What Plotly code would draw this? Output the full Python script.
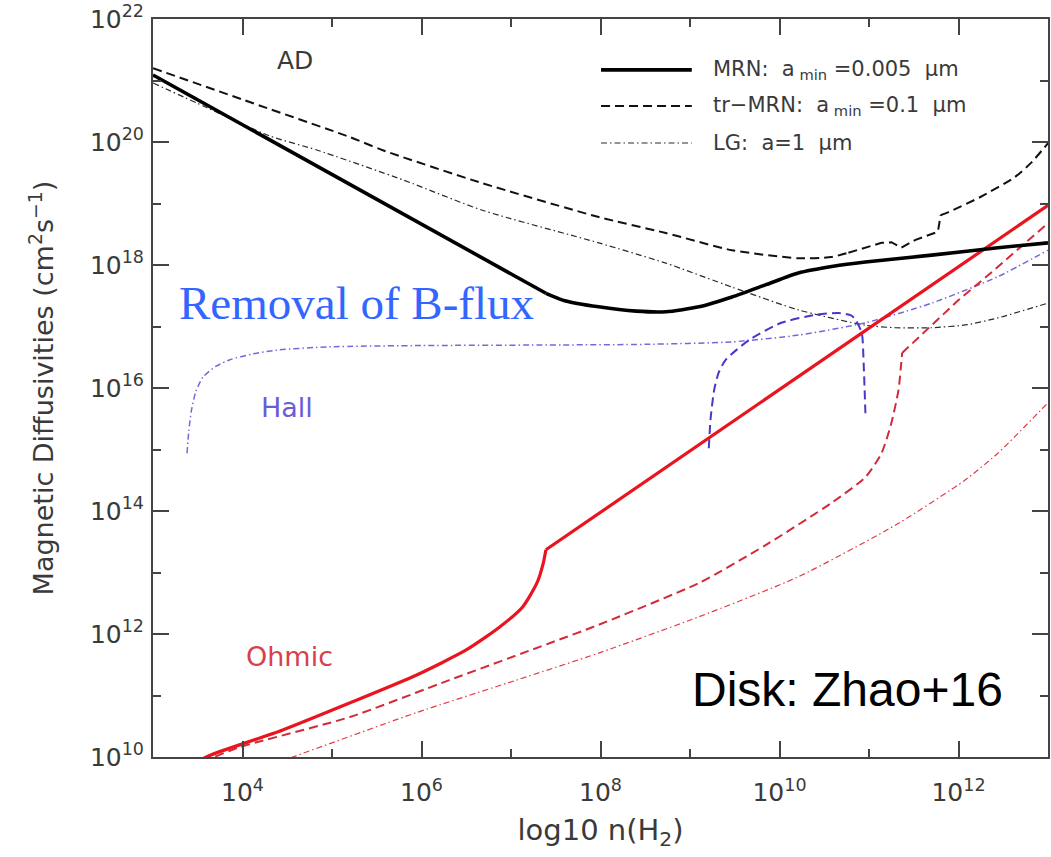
import numpy as np
import plotly.graph_objects as go

# ---- data: log10 n(H2) and log10 diffusivity (cm^2 s^-1) ----
# Ambipolar diffusion
ad_mrn_logn = [3.0, 4.0, 5.0, 6.0, 7.0, 7.39, 7.6, 7.98, 8.4, 8.73, 9.1, 9.47,
               9.85, 10.21, 10.6, 10.96, 11.7, 12.44, 13.0]
ad_mrn_logeta = [21.09, 20.28, 19.47, 18.66, 17.86, 17.54, 17.42, 17.32, 17.25, 17.24,
                 17.32, 17.48, 17.68, 17.87, 17.98, 18.05, 18.16, 18.28, 18.36]

ad_trmrn_logn = [3.0, 4.0, 5.2, 5.56, 6.68, 7.98, 8.73, 9.47, 10.21, 10.58, 10.77, 11.14, 11.25,
                 11.36, 11.52, 11.77, 11.8, 11.89, 12.25, 12.63, 12.81, 13.0]
ad_trmrn_logeta = [21.2, 20.69, 20.08, 19.87, 19.33, 18.78, 18.52, 18.24, 18.11, 18.13, 18.2, 18.36,
                   18.37, 18.28, 18.41, 18.54, 18.81, 18.86, 19.11, 19.43, 19.66, 19.98]

ad_lg_logn = [3.0, 3.6, 4.3, 4.83, 5.8, 6.68, 7.98, 8.73, 9.47, 10.21, 10.96, 11.3, 11.7, 12.1,
              12.44, 13.0]
ad_lg_logeta = [20.96, 20.56, 20.1, 19.87, 19.38, 18.89, 18.36, 18.03, 17.64, 17.27, 17.02, 16.98,
                16.98, 17.03, 17.14, 17.38]

# Hall effect
hall_lg_logn = [3.38, 3.40, 3.43, 3.48, 3.56, 3.7, 3.86, 4.1, 4.41, 4.97, 6.0, 7.57, 8.5, 9.47,
                10.21, 10.96, 11.7, 12.44, 13.0]
hall_lg_logeta = [14.94, 15.3, 15.64, 15.95, 16.18, 16.35, 16.46, 16.55, 16.62, 16.67, 16.69, 16.70,
                  16.71, 16.75, 16.86, 17.06, 17.38, 17.81, 18.24]

hall_trmrn_logn = [9.21, 9.23, 9.27, 9.32, 9.40, 9.66, 10.02, 10.40, 10.66, 10.80, 10.85, 10.92,
                   10.94, 10.96]
hall_trmrn_logeta = [15.02, 15.5, 15.97, 16.25, 16.46, 16.78, 17.06, 17.19, 17.22, 17.18, 17.11,
                     16.89, 16.40, 15.59]

# Ohmic dissipation
ohm_mrn_logn = [3.5, 3.64, 4.45, 5.2, 5.94, 6.5, 6.87, 7.13, 7.29, 7.36, 7.39, 9.21, 11.0, 13.0]
ohm_mrn_logeta = [9.93, 10.03, 10.44, 10.88, 11.33, 11.74, 12.11, 12.44, 12.83, 13.15, 13.37, 15.19,
                  16.98, 18.97]

ohm_trmrn_logn = [3.55, 3.97, 5.2, 6.31, 7.43, 7.98, 9.1, 9.85, 10.58, 10.96, 11.14, 11.25, 11.33,
                  11.36, 11.37, 12.0, 12.36, 13.0]
ohm_trmrn_logeta = [9.92, 10.16, 10.65, 11.25, 11.85, 12.15, 12.83, 13.45, 14.13, 14.55, 14.94, 15.43,
                    15.97, 16.4, 16.57, 17.43, 17.87, 18.68]

ohm_lg_logn = [4.4, 4.56, 5.94, 7.06, 7.98, 9.1, 10.21, 11.33, 12.07, 12.44, 13.0]
ohm_lg_logeta = [9.92, 10.0, 10.72, 11.25, 11.69, 12.28, 12.93, 13.8, 14.5, 14.94, 15.76]

# axis ticks
x_major = [4, 6, 8, 10, 12]
x_minor = [3, 5, 7, 9, 11, 13]
y_major = [10, 12, 14, 16, 18, 20, 22]
y_minor = [11, 13, 15, 17, 19, 21]

NB = "\u00a0"
legend_labels = [f"MRN:{NB}{NB}a<sub>{NB}min</sub>{NB}=0.005{NB}{NB}μm",
                 f"tr\u2212MRN:{NB}{NB}a<sub>{NB}min</sub>{NB}=0.1{NB}{NB}μm",
                 f"LG:{NB}{NB}a=1{NB}{NB}μm"]

GREY = "#3a3a3a"
SANS = "DejaVu Sans, Liberation Sans, Arial, sans-serif"

fig = go.Figure()


def add_curve(logn, logeta, color, width, dash, pieces=None):
    """Draw one curve; `pieces` lists (start, stop, shape) index ranges so
    smooth stretches can be splined while sharp corners stay sharp."""
    x = np.power(10.0, np.asarray(logn))
    y = np.power(10.0, np.asarray(logeta))
    if pieces is None:
        pieces = [(0, len(x), "spline")]
    for a, b, shape in pieces:
        fig.add_trace(go.Scatter(
            x=x[a:b], y=y[a:b], mode="lines",
            line=dict(color=color, width=width, dash=dash, shape=shape, smoothing=0.6),
            showlegend=False, hoverinfo="skip"))


DASH = "9px,5px"
DASHDOT = "6px,3px,1.5px,3px"

add_curve(ad_lg_logn, ad_lg_logeta, "#2a2a2a", 1.2, DASHDOT)
add_curve(ad_trmrn_logn, ad_trmrn_logeta, "#111111", 2.0, DASH,
          pieces=[(0, 11, "spline"), (10, 17, "linear"), (16, 22, "spline")])
add_curve(hall_lg_logn, hall_lg_logeta, "#7668dc", 1.5, DASHDOT)
add_curve(hall_trmrn_logn, hall_trmrn_logeta, "#4a36c8", 2.0, DASH)
add_curve(ohm_lg_logn, ohm_lg_logeta, "#e23c46", 1.2, DASHDOT)
add_curve(ohm_trmrn_logn, ohm_trmrn_logeta, "#d42a38", 2.0, DASH,
          pieces=[(0, 15, "spline"), (14, 18, "linear")])
add_curve(ohm_mrn_logn, ohm_mrn_logeta, "#e8141e", 3.2, "solid",
          pieces=[(0, 11, "spline"), (10, 14, "linear")])
add_curve(ad_mrn_logn, ad_mrn_logeta, "#000000", 3.6, "solid",
          pieces=[(0, 6, "linear"), (5, 19, "spline")])

# legend drawn as line samples plus labels
legend_styles = [("#000000", 3.6, "solid"), ("#111111", 2.0, DASH), ("#2a2a2a", 1.2, DASHDOT)]
legend_rows = [0.931, 0.882, 0.832]
for (col, w, d), yr, lab in zip(legend_styles, legend_rows, legend_labels):
    fig.add_shape(type="line", xref="paper", yref="paper", x0=0.5006, x1=0.602, y0=yr, y1=yr,
                  line=dict(color=col, width=w, dash=d))
    fig.add_annotation(xref="paper", yref="paper", x=0.624, y=yr, text=lab, showarrow=False,
                       xanchor="left", yanchor="middle",
                       font=dict(family=SANS, size=21, color=GREY))


def label(px, py, text, size, color, family=SANS):
    fig.add_annotation(xref="paper", yref="paper", x=(px - 153) / 897, y=(757 - py) / 738,
                       text=text, showarrow=False, xanchor="center", yanchor="middle",
                       font=dict(family=family, size=size, color=color))


# curve-group labels
label(295, 61, "AD", 25, GREY)
label(287, 408, "Hall", 27, "#6a5cd8")
label(290, 656, "Ohmic", 27, "#d8404c")
label(357, 303, "Removal of B-flux", 47, "#3366ff",
      family="Liberation Serif, Times New Roman, serif")
label(849, 689, "Disk: Zhao+16", 48, "#000000",
      family="Liberation Sans, Arial, sans-serif")

axis_common = dict(
    type="log", showgrid=False, zeroline=False,
    showline=True, linecolor="#444444", linewidth=2, mirror="ticks",
    ticks="inside", ticklen=16, tickwidth=1.6, tickcolor="#444444",
    tickfont=dict(family=SANS, size=25, color=GREY),
)

fig.update_xaxes(
    **axis_common,
    range=[3, 13],
    tickvals=[10.0 ** v for v in x_major],
    ticktext=[f"10<sup>{v}</sup>" for v in x_major],
    minor=dict(tickvals=[10.0 ** v for v in x_minor], ticks="inside", ticklen=8,
               tickwidth=1.6, tickcolor="#444444", showgrid=False),
    ticklabelstandoff=12,
    title=dict(text="log10 n(H<sub>2</sub>)", font=dict(family=SANS, size=29, color=GREY), standoff=14),
)
fig.update_yaxes(
    **axis_common,
    range=[10, 22],
    tickvals=[10.0 ** v for v in y_major],
    ticktext=[f"10<sup>{v}</sup>" for v in y_major],
    minor=dict(tickvals=[10.0 ** v for v in y_minor], ticks="inside", ticklen=8,
               tickwidth=1.6, tickcolor="#444444", showgrid=False),
    ticklabelstandoff=2,
    title=dict(text="Magnetic Diffusivities (cm<sup>2</sup>s<sup>\u22121</sup>)",
               font=dict(family=SANS, size=27, color=GREY), standoff=28),
)

fig.update_layout(
    width=1051, height=857,
    margin=dict(l=153, r=1, t=19, b=100),
    paper_bgcolor="white", plot_bgcolor="white",
    showlegend=False,
)

fig.write_html("out.html")
